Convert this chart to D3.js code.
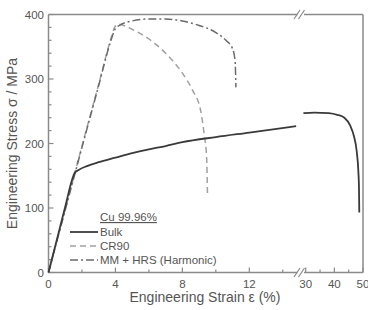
<!DOCTYPE html>
<html>
<head>
<meta charset="utf-8">
<script src="https://cdn.jsdelivr.net/npm/d3@7"></script>
<style>
  body { margin: 0; background: #fff; }
  svg text { font-family: "Liberation Sans", Arial, sans-serif; fill: #555; }
</style>
</head>
<body>
<svg id="chart" width="368" height="310"></svg>
<script>
// strain (%) / stress (MPa)
const bulkLeft = [[0,0],[0.5,51],[1.0,102],[1.4,143],[1.55,154],[1.8,159],[2.3,165],[3,171],[4,178],[5,185],[6,191],[7,196],[8,202],[10,210],[12,217],[14.8,227]];
const bulkRight = [[29.2,247],[33,248],[38,247],[41,244.5],[43.5,240],[45.5,228],[46.8,212],[47.8,188],[48.4,155],[48.6,130],[48.7,93]];
const cr90 = [[0,0],[1,98],[2,196],[3,292],[3.7,360],[3.95,380],[4.2,385],[4.5,383],[5,377],[6,362],[7,340],[8,309],[8.6,283],[9.1,250],[9.3,215],[9.45,178],[9.5,122]];
const mmHrs = [[0,0],[1,97],[2,194],[3,290],[3.7,357],[4.0,378],[4.3,384],[5,390],[6,393],[7,393],[8,390],[9,383],[10,372],[10.6,360],[11.0,347],[11.15,328],[11.2,287]];

const xTicksLeft = [0, 4, 8, 12];
const xMinorLeft = [2, 6, 10, 14];
const xTicksRight = [30, 40, 50];
const xMinorRight = [35, 45];
const yTicks = [0, 100, 200, 300, 400];
const legendItems = ['Bulk', 'CR90', 'MM + HRS (Harmonic)'];

const svg = d3.select('#chart');
const axisColor = '#8a8a8a';
const TOP = 14.5, BOTTOM = 272.5, LEFT = 48.5, RIGHT = 363;

const xL = d3.scaleLinear().domain([0, 15]).range([LEFT, 299.5]);
const xR = d3.scaleLinear().domain([28, 50]).range([300, RIGHT]);
const y = d3.scaleLinear().domain([0, 400]).range([BOTTOM, TOP]);

// frame (with break gaps)
const frame = svg.append('g').attr('stroke', axisColor).attr('stroke-width', 1.5).attr('fill', 'none');
frame.append('line').attr('x1', LEFT).attr('x2', LEFT).attr('y1', TOP).attr('y2', BOTTOM);
frame.append('line').attr('x1', RIGHT).attr('x2', RIGHT).attr('y1', TOP).attr('y2', BOTTOM);
[TOP, BOTTOM].forEach(yy => {
  frame.append('line').attr('x1', LEFT).attr('x2', 297.5).attr('y1', yy).attr('y2', yy);
  frame.append('line').attr('x1', 304).attr('x2', RIGHT).attr('y1', yy).attr('y2', yy);
  [296, 300.5].forEach(bx => {
    frame.append('line').attr('x1', bx - 2).attr('x2', bx + 4)
      .attr('y1', yy + 4.5).attr('y2', yy - 4.5).attr('stroke-width', 1.2);
  });
});

// x ticks
function ticks(scale, vals, len, labels) {
  const g = svg.append('g');
  g.selectAll('line').data(vals).enter().append('line')
    .attr('x1', d => scale(d)).attr('x2', d => scale(d))
    .attr('y1', BOTTOM).attr('y2', BOTTOM - len)
    .attr('stroke', axisColor).attr('stroke-width', 1.2);
  if (labels) {
    g.selectAll('text').data(vals).enter().append('text')
      .attr('x', d => scale(d)).attr('y', BOTTOM + 15)
      .attr('text-anchor', 'middle').style('font-size', '11.5px')
      .text(d => d);
  }
}
ticks(xL, xTicksLeft, 5, true);
ticks(xL, xMinorLeft, 3, false);
ticks(xR, xTicksRight, 5, true);
ticks(xR, xMinorRight, 3, false);

// y ticks
const yAxis = svg.append('g');
yAxis.selectAll('line.minor').data(d3.range(0, 401, 20)).enter().append('line')
  .attr('x1', LEFT).attr('x2', d => LEFT + (d % 100 === 0 ? 5 : 3))
  .attr('y1', d => y(d)).attr('y2', d => y(d))
  .attr('stroke', axisColor).attr('stroke-width', 1.2);
yAxis.selectAll('text').data(yTicks).enter().append('text')
  .attr('x', 44).attr('y', d => y(d) + 4)
  .attr('text-anchor', 'end').style('font-size', '11.5px')
  .text(d => d);

// axis titles
svg.append('text')
  .attr('transform', `translate(17,${(TOP + BOTTOM) / 2}) rotate(-90)`)
  .attr('text-anchor', 'middle').style('font-size', '14px')
  .text('Engineering Stress  σ / MPa');
svg.append('text')
  .attr('x', 205).attr('y', 302)
  .attr('text-anchor', 'middle').style('font-size', '14px')
  .text('Engineering Strain  ε (%)');

// curves
const lineL = d3.line().x(d => xL(d[0])).y(d => y(d[1])).curve(d3.curveMonotoneX);
const lineR = d3.line().x(d => xR(d[0])).y(d => y(d[1])).curve(d3.curveMonotoneX);

const styles = [
  { stroke: '#3a3a3a', dash: null, width: 1.8 },
  { stroke: '#a0a0a0', dash: '6,4', width: 1.5 },
  { stroke: '#6a6a6a', dash: '8,3,2,3', width: 1.5 }
];

function drawPath(gen, data, s) {
  svg.append('path').datum(data).attr('d', gen)
    .attr('fill', 'none').attr('stroke', s.stroke).attr('stroke-width', s.width)
    .attr('stroke-dasharray', s.dash);
}
drawPath(lineL, cr90, styles[1]);
drawPath(lineL, mmHrs, styles[2]);
drawPath(lineL, bulkLeft, styles[0]);
drawPath(lineR, bulkRight, styles[0]);

// legend
const lg = svg.append('g').attr('transform', 'translate(70,221)');
lg.append('text').attr('x', 30).attr('y', 0).style('font-size', '11.5px')
  .attr('text-decoration', 'underline').text('Cu 99.96%');
legendItems.forEach((name, i) => {
  const yy = 15 + i * 14;
  lg.append('line').attr('x1', 0).attr('x2', 28).attr('y1', yy - 4).attr('y2', yy - 4)
    .attr('stroke', styles[i].stroke).attr('stroke-width', styles[i].width)
    .attr('stroke-dasharray', styles[i].dash);
  lg.append('text').attr('x', 30).attr('y', yy).style('font-size', '11.5px').text(name);
});
</script>
</body>
</html>
